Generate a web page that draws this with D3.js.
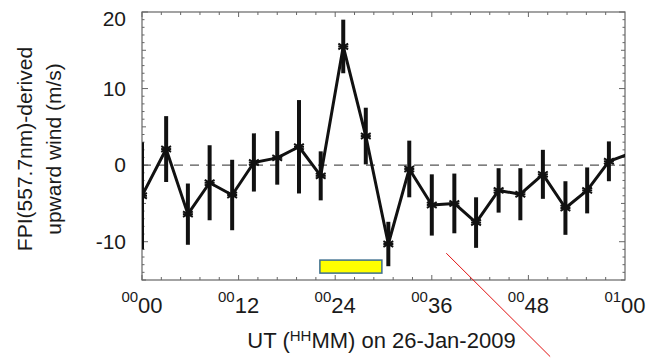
<!DOCTYPE html>
<html>
<head>
<meta charset="utf-8">
<script src="https://cdn.jsdelivr.net/npm/d3@7"></script>
<style>
  body { margin: 0; background: #fff; }
  text { font-family: "Liberation Sans", Arial, sans-serif; fill: #1a1a1a; }
</style>
</head>
<body>
<div id="chart"></div>
<script>

// minutes after 00:00 UT
var times = [0, 3.0, 5.7, 8.4, 11.2, 13.9, 16.8, 19.5, 22.2, 25.0, 27.8, 30.6,
             33.2, 36.0, 38.8, 41.5, 44.3, 47.0, 49.8, 52.6, 55.3, 58.0, 60.8];
var wind = [-4.0, 2.1, -6.4, -2.3, -3.9, 0.35, 0.95, 2.4, -1.4, 15.5, 3.8, -10.3,
            -0.5, -5.2, -5.0, -7.5, -3.3, -3.8, -1.2, -5.6, -3.3, 0.5, 1.6];
var errs = [7.0, 4.3, 4.0, 4.9, 4.6, 3.8, 3.5, 6.1, 3.2, 3.5, 3.7, 2.9,
            3.7, 4.0, 3.9, 3.3, 2.9, 3.4, 3.2, 3.5, 3.0, 2.6, 2.6];

var xTickVals = [0, 12, 24, 36, 48, 60];
var xTickHours = ['00', '00', '00', '00', '00', '01'];
var xTickMins = ['00', '12', '24', '36', '48', '00'];
var yTickVals = [-10, 0, 10, 20];

// yellow bar (minutes, m/s) and the red annotation line
var box = { t0: 22.1, t1: 29.8, v0: -14.1, v1: -12.4 };
var redLine = [[37.8, -11.5], [50.7, -25]];

var width = 650, height = 358;
var plotL = 142, plotR = 625, plotT = 12, plotB = 280;

var svg = d3.select('#chart').append('svg')
    .attr('width', width)
    .attr('height', height);

var x = d3.scaleLinear().domain([0, 60]).range([plotL, plotR]);
var y = d3.scaleLinear().domain([-15, 20]).range([plotB, plotT]);

svg.append('clipPath').attr('id', 'plot')
    .append('rect')
        .attr('x', plotL).attr('y', plotT)
        .attr('width', plotR - plotL).attr('height', plotB - plotT);

/** frame + ticks */
svg.append('rect')
    .attr('x', plotL).attr('y', plotT)
    .attr('width', plotR - plotL).attr('height', plotB - plotT)
    .attr('fill', 'none')
    .attr('stroke', '#666')
    .attr('stroke-width', 1.2);

var ticks = svg.append('g').attr('stroke', '#666').attr('stroke-width', 1);

d3.range(-15, 20.01, 1).forEach(function(v) {
    var len = v % 10 === 0 ? 6 : (v % 5 === 0 ? 4 : 2.5);
    ticks.append('line').attr('x1', plotL).attr('x2', plotL + len)
        .attr('y1', y(v)).attr('y2', y(v));
    ticks.append('line').attr('x1', plotR).attr('x2', plotR - len)
        .attr('y1', y(v)).attr('y2', y(v));
});

d3.range(0, 25).forEach(function(i) {
    var t = i * 2.4;
    var len = i % 5 === 0 ? 5 : 3;
    ticks.append('line').attr('x1', x(t)).attr('x2', x(t))
        .attr('y1', plotB).attr('y2', plotB - len);
    ticks.append('line').attr('x1', x(t)).attr('x2', x(t))
        .attr('y1', plotT).attr('y2', plotT + len);
});

/** tick labels */
svg.selectAll('.ylab')
    .data(yTickVals)
    .enter().append('text')
        .attr('class', 'ylab')
        .attr('x', plotL - 16)
        .attr('y', function(d) { return Math.max(y(d), 19) + 7; })
        .attr('text-anchor', 'end')
        .style('font-size', '21px')
        .text(function(d) { return d; });

var xl = svg.selectAll('.xlab')
    .data(xTickVals)
    .enter().append('text')
        .attr('class', 'xlab')
        .attr('x', function(d) { return x(d); })
        .attr('y', 313)
        .attr('text-anchor', 'middle');
xl.append('tspan')
    .style('font-size', '15px')
    .attr('dy', -11)
    .text(function(d, i) { return xTickHours[i]; });
xl.append('tspan')
    .style('font-size', '22px')
    .attr('dy', 11)
    .text(function(d, i) { return xTickMins[i]; });

/** axis titles */
var xt = svg.append('text')
    .attr('x', (plotL + plotR) / 2 - 2)
    .attr('y', 348)
    .attr('text-anchor', 'middle')
    .style('font-size', '22px');
xt.append('tspan').text('UT (');
xt.append('tspan').style('font-size', '15px').attr('dy', -7).text('HH');
xt.append('tspan').attr('dy', 7).text('MM) on 26-Jan-2009');

var yt = svg.append('text')
    .attr('transform', 'translate(0,149) rotate(-90)')
    .attr('text-anchor', 'middle')
    .style('font-size', '21px');
yt.append('tspan').attr('x', 0).attr('y', 32).text('FPI(557.7nm)-derived');
yt.append('tspan').attr('x', 0).attr('y', 61).text('upward wind (m/s)');

/** zero line */
svg.append('line')
    .attr('x1', x(0)).attr('x2', x(60))
    .attr('y1', y(0)).attr('y2', y(0))
    .attr('stroke', '#555')
    .attr('stroke-width', 1.4)
    .attr('stroke-dasharray', '9,7');

/** yellow bar */
svg.append('rect')
    .attr('x', x(box.t0)).attr('y', y(box.v1))
    .attr('width', x(box.t1) - x(box.t0))
    .attr('height', y(box.v0) - y(box.v1))
    .attr('fill', '#ffff00')
    .attr('stroke', '#3d6f8e')
    .attr('stroke-width', 1.5);

/** data */
var pts = times.map(function(t, i) { return { t: t, v: wind[i], e: errs[i] }; });

var plot = svg.append('g').attr('clip-path', 'url(#plot)');

plot.selectAll('.err')
    .data(pts)
    .enter().append('line')
        .attr('class', 'err')
        .attr('x1', function(d) { return x(d.t); })
        .attr('x2', function(d) { return x(d.t); })
        .attr('y1', function(d) { return y(d.v + d.e); })
        .attr('y2', function(d) { return y(d.v - d.e); })
        .attr('stroke', '#111')
        .attr('stroke-width', 4);

plot.append('path')
    .datum(pts)
    .attr('fill', 'none')
    .attr('stroke', '#111')
    .attr('stroke-width', 3)
    .attr('stroke-linejoin', 'round')
    .attr('d', d3.line()
        .x(function(d) { return x(d.t); })
        .y(function(d) { return y(d.v); }));

var star = d3.symbol().type(d3.symbolAsterisk || d3.symbolCross).size(90);
plot.selectAll('.pt')
    .data(pts)
    .enter().append('path')
        .attr('class', 'pt')
        .attr('transform', function(d) { return 'translate(' + x(d.t) + ',' + y(d.v) + ')'; })
        .attr('d', star)
        .attr('fill', 'none')
        .attr('stroke', '#111')
        .attr('stroke-width', 2);

plot.selectAll('.ptbar')
    .data(pts)
    .enter().append('line')
        .attr('x1', function(d) { return x(d.t) - 5; })
        .attr('x2', function(d) { return x(d.t) + 5; })
        .attr('y1', function(d) { return y(d.v); })
        .attr('y2', function(d) { return y(d.v); })
        .attr('stroke', '#111')
        .attr('stroke-width', 2);

/** red annotation */
svg.append('line')
    .attr('x1', x(redLine[0][0])).attr('y1', y(redLine[0][1]))
    .attr('x2', x(redLine[1][0])).attr('y2', y(redLine[1][1]))
    .attr('stroke', '#e01010')
    .attr('stroke-width', 1);

</script>
</body>
</html>
